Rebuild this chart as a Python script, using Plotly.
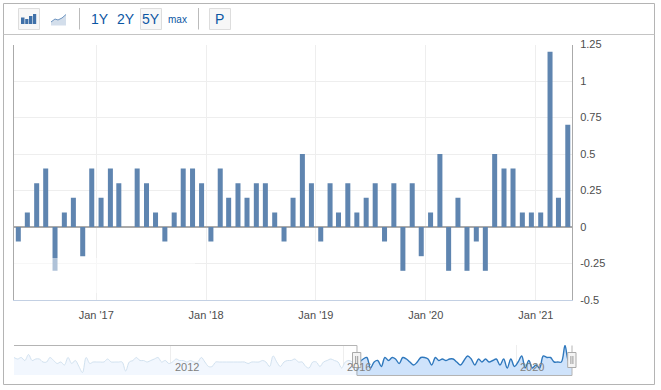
import plotly.graph_objects as go
import pandas as pd

W, H = 661, 390

# ---- data ----
history_values = [
    .4,.3,.4,.2,.6,.2,.3,.3,.1,.1,.4,.2,0,.1,-.1,.4,0,.2,-.2,-.6,.4,0,.1,.1,.1,.1,.3,.1,.1,.1,.1,-.5,.1,
    .2,.4,.2,.2,.1,.2,.3,.4,.1,.2,0,.1,.3,.2,.2,.1,.2,.1,.1,.4,.1,-.2,-.2,.1,.1,.1,.1,.1,.1,.1,.1,.1,
    0,.1,.1,.1,.2,.1,-.2,.5,.1,-.2,.1,.2,.2,.3,.1,.1,-.2,-.3,.1,.1,-.2,.1,.2,.3,.2,.1,-.3,.1,.2,.1,
]
recent_values = [
    -.1,.1,.3,.4,-.3,.1,.2,-.2,.4,
    .2,.4,.3,0,.4,.3,.1,-.1,.1,.4,.4,.3,
    -.1,.4,.2,.3,.2,.3,.3,.1,-.1,.2,.5,.3,
    -.1,.3,.1,.3,.1,.2,.3,-.1,.3,-.3,.3,-.2,
    .1,.5,-.3,.2,-.3,-.1,-.3,.5,.4,.4,.1,.1,
    .1,1.2,.2,.7,
]
y_ticks = [1.25, 1, 0.75, 0.5, 0.25, 0, -0.25, -0.5]
y_tick_labels = ["1.25", "1", "0.75", "0.5", "0.25", "0", "-0.25", "-0.5"]
x_ticks = ["2017-01-01", "2018-01-01", "2019-01-01", "2020-01-01", "2021-01-01"]
x_tick_labels = ["Jan '17", "Jan '18", "Jan '19", "Jan '20", "Jan '21"]
nav_ticks = ["2012-01-01", "2016-01-01", "2020-01-01"]
nav_tick_labels = ["2012", "2016", "2020"]
range_buttons = [("1Y", 100, 14), ("2Y", 126, 14), ("5Y", 151, 14), ("max", 177, 10), ("P", 220, 14)]

# ---- dates ----
recent_dates = [pd.Timestamp("2016-04-01") + pd.DateOffset(months=i, days=16) for i in range(len(recent_values))]
history_dates = [pd.Timestamp("2008-05-01") + pd.DateOffset(months=i, days=16) for i in range(len(history_values))]

NAV_MIN, NAV_MAX = -0.767, 1.233

def px(x): return x / W
def py(y): return 1 - y / H

BAR = "#5f85b0"
TXT = "#4d4d4d"
FRAME = "#b4b4b4"
BLUE = "#0b56a3"

fig = go.Figure()

fig.add_trace(go.Bar(x=recent_dates, y=recent_values, width=1.44e9, marker=dict(color=BAR, line_width=0),
                     xaxis="x", yaxis="y", hoverinfo="skip"))

# navigator
all_dates = history_dates + recent_dates
fig.add_trace(go.Scatter(x=history_dates + recent_dates[:1], y=[NAV_MIN] * (len(history_dates) + 1),
                         mode="lines", line=dict(width=0), xaxis="x2", yaxis="y2", hoverinfo="skip"))
fig.add_trace(go.Scatter(x=history_dates + recent_dates[:1], y=history_values + recent_values[:1],
                         mode="lines", line=dict(color="#d2e2f0", width=1, shape="spline"),
                         fill="tonexty", fillcolor="#f2f7fe", xaxis="x2", yaxis="y2", hoverinfo="skip"))
fig.add_trace(go.Scatter(x=recent_dates, y=[NAV_MIN] * len(recent_dates),
                         mode="lines", line=dict(width=0), xaxis="x2", yaxis="y2", hoverinfo="skip"))
fig.add_trace(go.Scatter(x=recent_dates, y=recent_values,
                         mode="lines", line=dict(color="#2f78bd", width=1.4, shape="spline"),
                         fill="tonexty", fillcolor="#cfe3fb", xaxis="x2", yaxis="y2", hoverinfo="skip"))

shapes = []
def rect(x0, y0, x1, y1, fill="rgba(0,0,0,0)", line=None, lw=1, opacity=1, layer="above"):
    shapes.append(dict(type="rect", xref="paper", yref="paper", x0=px(x0), x1=px(x1), y0=py(y0), y1=py(y1),
                       fillcolor=fill, opacity=opacity, layer=layer,
                       line=dict(color=line or "rgba(0,0,0,0)", width=lw if line else 0)))
def line(x0, y0, x1, y1, color=FRAME, lw=1):
    shapes.append(dict(type="line", xref="paper", yref="paper", x0=px(x0), x1=px(x1), y0=py(y0), y1=py(y1),
                       line=dict(color=color, width=lw), layer="above"))
def poly(pts, fill="rgba(0,0,0,0)", color=None, lw=1, close=True):
    d = "M" + " L".join(f"{px(a):.5f},{py(b):.5f}" for a, b in pts) + (" Z" if close else "")
    shapes.append(dict(type="path", xref="paper", yref="paper", path=d, fillcolor=fill, layer="above",
                       line=dict(color=color or "rgba(0,0,0,0)", width=lw if color else 0)))

# frame + toolbar
rect(3.5, 3.5, 654.5, 384.5, line=FRAME, lw=1, layer="below")
line(3.5, 34.5, 654.5, 34.5, "#c4c4c4")
line(79.5, 8, 79.5, 29.5, "#bbbbbb")
line(198.5, 8, 198.5, 29.5, "#bbbbbb")
for a in (18.5, 140.5, 209.5):
    rect(a, 8.5, a + 21, 29.5, fill="#f7f7f7", line="#dddddd")
for a, b, c in [(21, 24.5, 17.5), (25.2, 28.4, 19), (29, 32.4, 16), (33, 36.2, 14)]:
    rect(a, c, b, 24, fill="#3f70a8")
poly([(51, 22), (55, 19), (58, 20), (62, 18), (66, 14.5), (66, 25.5), (51, 25.5)], fill="#d3deeb")
poly([(51, 22), (55, 19), (58, 20), (62, 18), (66, 14.5)], color="#6d94c0", lw=1, close=False)

# pale watermark band
rect(14, 258, 195, 293, fill="white", opacity=0.5)

# navigator outline + handles
poly([(14, 345.5), (357, 345.5), (357, 375.5), (572, 375.5), (572, 345.5)], color=FRAME, lw=1, close=False)
for a in (352.5, 567.7):
    rect(a, 352.5, a + 8.3, 367.5, fill="#f4f4f4", line="#aaaaaa")
    line(a + 3.2, 356, a + 3.2, 364, "#999999")
    line(a + 5.2, 356, a + 5.2, 364, "#999999")

annotations = [dict(text=t, x=px(cx), y=py(19), xref="paper", yref="paper", showarrow=False,
                    font=dict(family="Liberation Sans", size=s, color=BLUE), xanchor="center", yanchor="middle")
               for t, cx, s in range_buttons]
for t, lbl in zip(nav_ticks, nav_tick_labels):
    annotations.append(dict(text=lbl, x=t, xref="x2", y=py(367), yref="paper", xshift=16, showarrow=False,
                            font=dict(family="Liberation Sans", size=11, color="#808080"),
                            xanchor="center", yanchor="middle"))

fig.update_layout(
    width=W, height=H, autosize=False, margin=dict(l=0, r=0, t=0, b=0, pad=0, autoexpand=False),
    paper_bgcolor="white", plot_bgcolor="white", showlegend=False, hovermode=False,
    shapes=shapes, annotations=annotations,
    font=dict(family="Liberation Sans", size=11, color=TXT),
    xaxis=dict(domain=[px(13.5), px(572)], range=["2016-04-01", "2021-05-01"], type="date",
               tickmode="array", tickvals=x_ticks, ticktext=x_tick_labels, tickangle=0,
               ticks="", showgrid=True, gridcolor="#eeeeee", gridwidth=1,
               showline=True, linecolor="#c3d0e3", linewidth=1, zeroline=False,
               ticklabelstandoff=5,
               tickfont=dict(family="Liberation Sans", size=11, color=TXT), anchor="y"),
    yaxis=dict(domain=[py(300), py(44.5)], range=[-0.5, 1.25], side="right",
               tickmode="array", tickvals=y_ticks, ticktext=y_tick_labels,
               ticks="", showgrid=True, gridcolor="#eeeeee", gridwidth=1,
               showline=True, linecolor="#aaaaaa", linewidth=1, mirror=True,
               zeroline=True, zerolinecolor="#aaaaaa", zerolinewidth=1.5,
               ticklabelstandoff=5,
               tickfont=dict(family="Liberation Sans", size=11, color=TXT), anchor="x"),
    xaxis2=dict(domain=[px(14), px(572)], range=[all_dates[0], all_dates[-1]], type="date",
                tickmode="array", tickvals=nav_ticks, showticklabels=False, ticks="",
                showgrid=True, gridcolor="#eeeeee", showline=False, zeroline=False, anchor="y2"),
    yaxis2=dict(domain=[py(375), py(345)], range=[NAV_MIN, NAV_MAX], showgrid=False, zeroline=False,
                showticklabels=False, ticks="", showline=False, anchor="x2"),
)

fig.write_html("out.html", config=dict(displayModeBar=False, staticPlot=True),
               post_script="document.body.style.margin='0';document.body.style.overflow='hidden';")
